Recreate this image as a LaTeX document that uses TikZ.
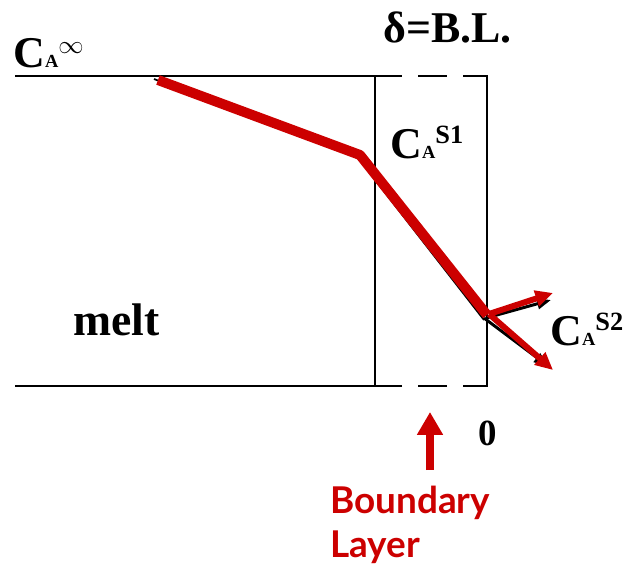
\documentclass[tikz,border=0pt]{standalone}
\usepackage{fontspec}
\setmainfont{Liberation Serif}
\newfontfamily\blfont{Lato}
\usepackage{tikz}
\usetikzlibrary{arrows.meta,calc,positioning}
\definecolor{bred}{HTML}{CC0000}
% concentration label C_A^{...}
\newcommand{\concA}[1]{{\fontsize{25}{25}\selectfont C}{\fontsize{10.5}{10.5}\selectfont A}\raisebox{8.5pt}{\fontsize{15}{15}\selectfont #1}}

\begin{document}
\begin{tikzpicture}[x=0.02cm,y=-0.02cm,font=\bfseries,
  bline/.style={line width=1.4pt},
  rline/.style={line width=5.7pt,bred,line join=round},
  txt/.style={inner sep=0pt,anchor=base west}]
\useasboundingbox (0,0) rectangle (632,571);
% box of the melt and the boundary layer
\draw[bline] (15,76) -- (375,76) (15,386) -- (375,386) (375,76) -- (375,386);
\draw[bline] (375,76) -- (402,76) (418,76) -- (447,76) (463,76) -- (487,76) -- (487,386) -- (463,386)
  (447,386) -- (418,386) (402,386) -- (375,386);
% concentration profile
\draw[line width=1pt] (154,79) -- (358,158) -- (484,320);
\draw[rline] (158,80) -- (360,155) -- (487,315);
% fluxes at the surface
\coordinate (s) at (489,314);
\draw[line width=1.7pt,-{Triangle[length=8pt,width=6pt]}] ($(s)+(-3,4)$) -- (551,300);
\draw[line width=1.7pt,-{Triangle[length=8pt,width=6pt]}] ($(s)+(-5,4)$) -- (548,366);
\draw[line width=3.4pt,bred,-{Triangle[length=10pt,width=9pt]}] (s) -- (553,293);
\draw[line width=3.4pt,bred,-{Triangle[length=10pt,width=9pt]}] (s) -- (553,370);
% labels
\node[txt] (cinf) at (13,68) {\concA{$\infty$}};
\node[txt] (cs1) at (390,158) {\concA{S1}};
\node[txt] (cs2) at (550,345) {\concA{S2}};
\node[txt,font=\bfseries\fontsize{26}{26}\selectfont] (melt) at (73,335) {melt};
\node[txt,font=\bfseries\fontsize{25}{25}\selectfont] (delta) at (383,43) {δ=B.L.};
\node[txt,font=\bfseries\fontsize{21}{21}\selectfont] (zero) at (478,445) {0};
\node[txt,bred,font=\blfont\bfseries\fontsize{21}{21}\selectfont] (bnd) at (330,513) {Boundary};
\node[txt,bred,font=\blfont\bfseries\fontsize{21}{21}\selectfont] (lay) at (330,557) {Layer};
\coordinate (blfoot) at (430,470);
\coordinate (bltip) at (430,412);
\draw[bred,line width=4.5pt,-{Triangle[length=13pt,width=14pt]}] (blfoot) -- (bltip);
\end{tikzpicture}
\end{document}
